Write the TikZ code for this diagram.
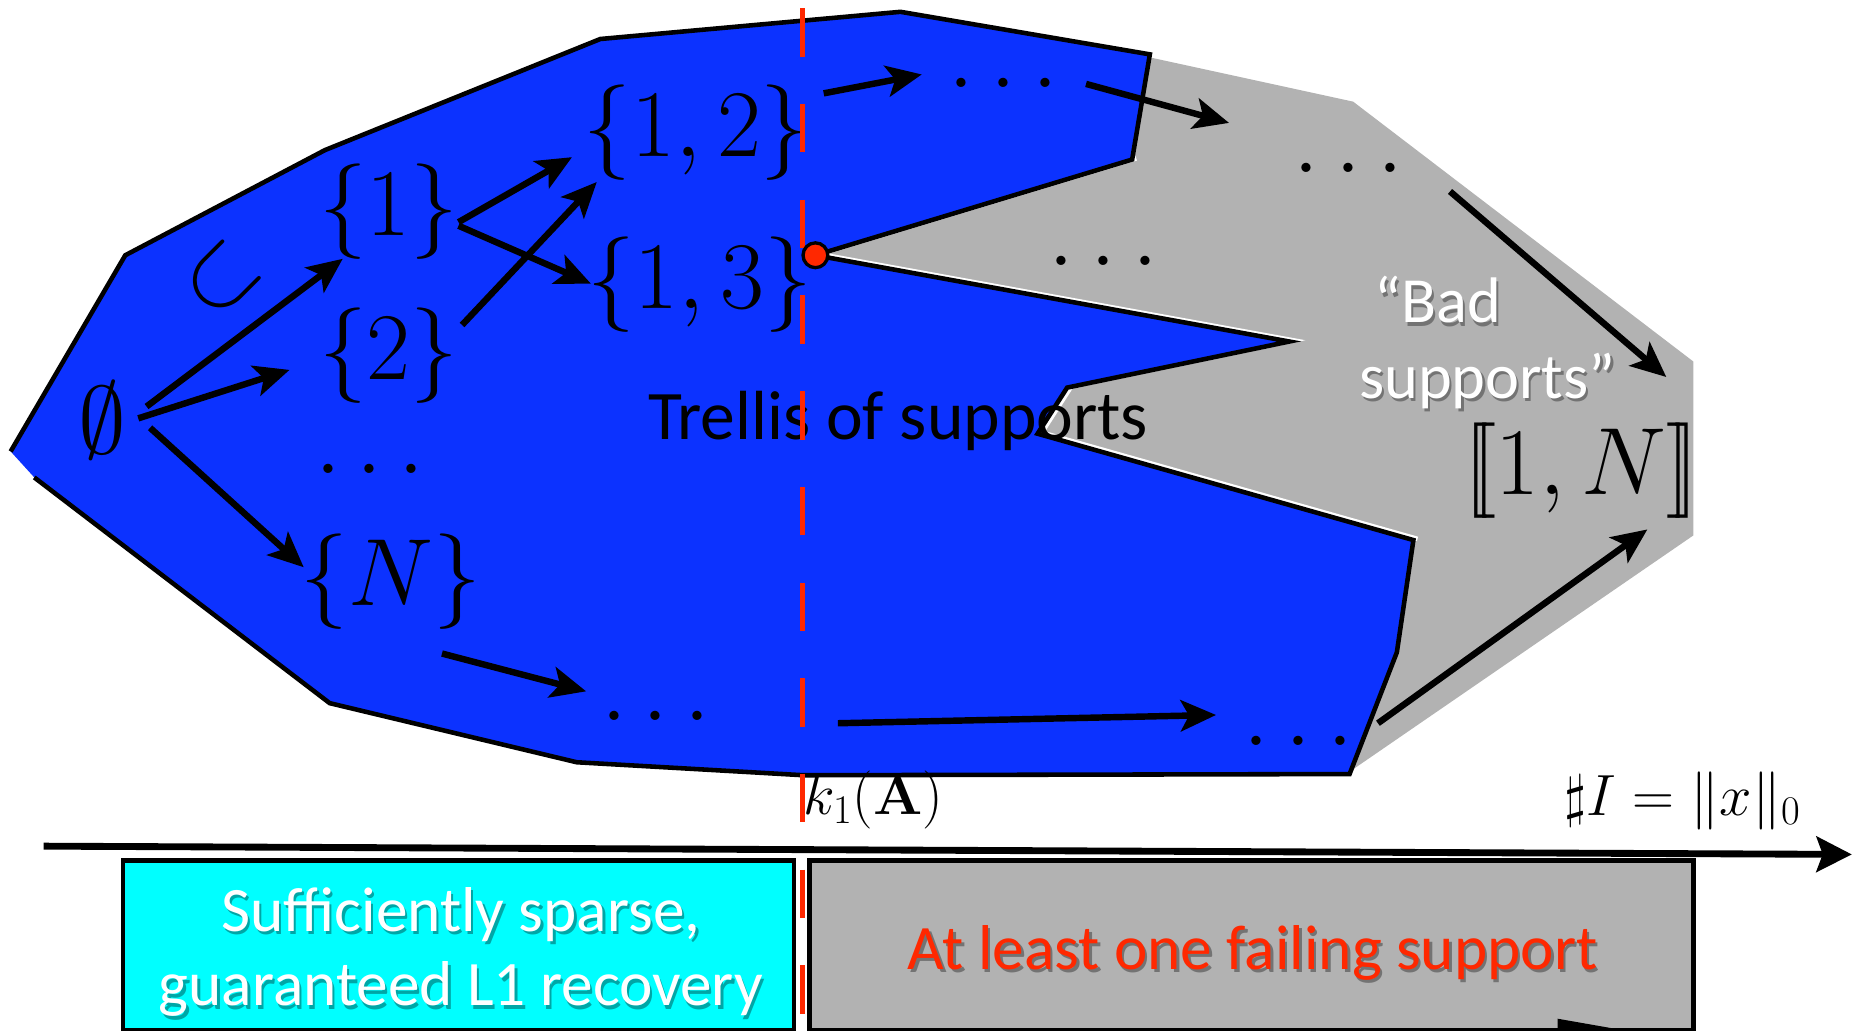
\RequirePackage{fix-cm}
\documentclass[tikz,border=0pt]{standalone}
\usepackage{amsmath}
\usepackage[no-math]{fontspec}
\newfontfamily\gill{Carlito}
\usetikzlibrary{arrows.meta,calc}
\definecolor{sblue}{RGB}{12,50,255}
\definecolor{sgray}{RGB}{178,178,178}
\definecolor{sred}{RGB}{255,40,0}
\definecolor{scyan}{RGB}{0,255,255}
\tikzset{
  mth/.style={font=\fontsize{46}{52}\selectfont},
  smth/.style={font=\fontsize{28}{33}\selectfont},
  arr/.style={line width=3.1pt,-{Stealth[length=17pt,width=15pt,inset=4pt]}},
  axisarr/.style={line width=3.3pt,-{Stealth[length=17pt,width=17pt,inset=3pt]}},
  outline/.style={line width=2.2pt},
  gtxt/.style={font=\gill\fontsize{33.5}{40}\selectfont},
  badtxt/.style={font=\gill\fontsize{31}{36}\selectfont},
  boxtxt/.style={font=\gill\fontsize{30.5}{36}\selectfont},
  shadowtxt/.style={text=black, text opacity=0.35},
  boxstyle/.style={draw=black, line width=2.1pt},
}
\begin{document}
\begin{tikzpicture}[x=0.02cm,y=-0.02cm, every node/.style={inner sep=0pt, outer sep=0pt}]
\useasboundingbox (0,0) rectangle (1568,872);

% gray region of bad supports
\fill[sgray] (690,216) -- (975,49) -- (1145,86) -- (1433,306) -- (1433,453) -- (1142,653) -- (850,380) -- cycle;
% white highlight along notches
\draw[white, line width=2.2pt, shift={(3.5,-1)}] (958,135) -- (690,216) -- (1091,289) -- (903,328) -- (878,367) -- (1196,457);
% blue trellis region
\fill[sblue] (9,382) -- (106,216) -- (275,127) -- (508,33) -- (762,10) -- (973,46) -- (958,135) -- (690,216) -- (1091,289) -- (903,328) -- (878,367) -- (1196,457) -- (1182,552) -- (1142,655) -- (680,656) -- (488,645) -- (279,595) -- (29,404) -- cycle;
\draw[outline] (9,382) -- (106,216) -- (275,127) -- (508,33) -- (762,10) -- (973,46) -- (958,135) -- (690,216) -- (1091,289) -- (903,328) -- (878,367) -- (1196,457) -- (1182,552) -- (1142,655) -- (680,656) -- (488,645) -- (279,595) -- (29,404);

% math nodes
\node[mth] (e) at (87,356) {$\emptyset$};
\node[mth, rotate=45] (sub) at (188,236) {$\subset$};
\node[mth] (s1) at (329,179) {$\{1\}$};
\node[mth] (s2) at (329,301) {$\{2\}$};
\node[mth] (dA) at (313,397) {$\ldots$};
\node[mth] (sN) at (331,492) {$\{N\}$};
\node[mth] (dB) at (555,606) {$\ldots$};
\node[mth] (s12) at (589,112) {$\{1,2\}$};
\node[mth] (s13) at (592,241) {$\{1,3\}$};
\node[mth] (dT) at (849,70) {$\ldots$};
\node[mth] (dM) at (934,221) {$\ldots$};
\node[mth] (dR) at (1141,142) {$\ldots$};
\node[mth] (dBR) at (1099,627) {$\ldots$};
\begin{scope}
\clip (1200,340) rectangle (1433,460);
\node[mth] (full) at (1338,398) {$\mathopen{[\![}1,N\mathclose{]\!]}$};
\end{scope}
\node[smth] (k1) at (739,677) {$k_1(\mathbf{A})$};
\node[smth] (norm) at (1424,678) {$\sharp I=\|x\|_0$};

% arrows of the trellis
\draw[arr] ($(e)+(37,-12)$) -- ($(s1)+(-39,40)$);
\draw[arr] ($(e)+(30,-2)$) -- ($(s2)+(-84,12)$);
\draw[arr] ($(e)+(40,6)$) -- ($(sN)+(-74,-12)$);
\draw[arr] ($(s1)+(59,9)$) -- ($(s12)+(-105,21)$);
\draw[arr] ($(s1)+(59,12)$) -- ($(s13)+(-92,-1)$);
\draw[arr] ($(s2)+(62,-26)$) -- ($(s12)+(-84,42)$);
\draw[arr] ($(s12)+(108,-33)$) -- ($(dT)+(-69,-7)$);
\draw[arr] ($(dT)+(70,1)$) -- ($(dR)+(-101,-38)$);
\draw[arr] ($(dR)+(86,20)$) -- ($(full)+(72,-79)$);
\draw[arr] ($(sN)+(43,61)$) -- ($(dB)+(-59,-21)$);
\draw[arr] ($(dB)+(154,6)$) -- ($(dBR)+(-70,-22)$);
\draw[arr] ($(dBR)+(67,-15)$) -- ($(full)+(56,50)$);

% labels
\node[gtxt, anchor=base] (trellis) at (760,372) {Trellis of supports};
\node[badtxt, shadowtxt, anchor=base west] (bad1s) at (1165,276) {“Bad};
\node[badtxt, shadowtxt, anchor=base west] (bad2s) at (1152,340) {supports”};
\node[badtxt, text=white, anchor=base west] (bad1) at (1163,273) {“Bad};
\node[badtxt, text=white, anchor=base west] (bad2) at (1150,337) {supports”};

% axis
\coordinate (ax0) at (37,716);
\coordinate (ax1) at (1567,723);
\draw[axisarr] (ax0) -- (ax1);

% bottom boxes
\draw[boxstyle, fill=scyan] (104,728) rectangle (672,872);
\draw[boxstyle, fill=sgray] (685,728) rectangle (1433,872);
\node[boxtxt, shadowtxt, anchor=base] (suf1s) at (392,791) {Sufficiently sparse,};
\node[boxtxt, shadowtxt, anchor=base] (suf2s) at (392,854) {guaranteed L1 recovery};
\node[boxtxt, text=white, anchor=base] (suf1) at (390,788) {Sufficiently sparse,};
\node[boxtxt, text=white, anchor=base] (suf2) at (390,851) {guaranteed L1 recovery};
\node[boxtxt, shadowtxt, anchor=base] (fails) at (1062,823) {At least one failing support};
\node[boxtxt, text=sred, anchor=base] (fail) at (1060,820) {At least one failing support};

% partial arrow head at bottom
\fill[black] (1318,862) -- (1375,872) -- (1318,882) -- cycle;

% red dashed threshold line
\coordinate (r0) at (679,7);
\coordinate (r1) at (679,872);
\draw[sred, line width=2.3pt, dash pattern=on 0.82cm off 0.80cm] (r0) -- (r1);

% red dot
\node[circle, fill=sred, draw=black, line width=1.6pt, minimum size=0.42cm] (dot) at (690,216) {};
\end{tikzpicture}
\end{document}
